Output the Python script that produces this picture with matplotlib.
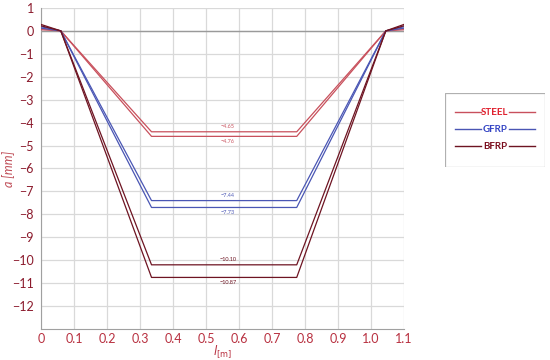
import matplotlib.pyplot as plt
from matplotlib.lines import Line2D
from matplotlib.patches import Rectangle

plt.rcParams['font.family'] = ['Lato', 'DejaVu Sans']

# x positions of the deflection shape (m)
x_pts = [0.0, 0.06, 0.335, 0.775, 1.045, 1.1]
materials = ['STEEL', 'GFRP', 'BFRP']
# two curves per material: start value, plateau value, end value
start_vals = {'STEEL': [0.05, 0.10], 'GFRP': [0.12, 0.18], 'BFRP': [0.22, 0.28]}
plateau_vals = {'STEEL': [-4.40, -4.60], 'GFRP': [-7.40, -7.70], 'BFRP': [-10.20, -10.75]}
end_vals = {'STEEL': [0.10, 0.05], 'GFRP': [0.18, 0.12], 'BFRP': [0.28, 0.22]}
value_labels = {'STEEL': ['−4.65', '−4.76'], 'GFRP': ['−7.44', '−7.73'], 'BFRP': ['−10.10', '−10.87']}

line_colors = {'STEEL': '#c8505c', 'GFRP': '#4a56b4', 'BFRP': '#6e1422'}
text_colors = {'STEEL': '#e0202e', 'GFRP': '#3444c4', 'BFRP': '#7a0c1c'}
tick_color = '#8b1a2c'

fig = plt.figure(figsize=(5.5, 3.6), dpi=100)
ax = fig.add_axes([0.0745, 0.086, 0.66, 0.892])

for m in materials:
    for k in range(2):
        y = [start_vals[m][k], 0, plateau_vals[m][k], plateau_vals[m][k], 0, end_vals[m][k]]
        ax.plot(x_pts, y, color=line_colors[m], lw=0.9, zorder=3)
    ax.text(0.567, plateau_vals[m][0] + 0.12, value_labels[m][0], fontsize=4,
            color=line_colors[m], ha='center', va='bottom')
    ax.text(0.567, plateau_vals[m][1] - 0.12, value_labels[m][1], fontsize=4,
            color=line_colors[m], ha='center', va='top')

ax.axhline(0, color='#9a9a9a', lw=1.0, zorder=2)
ax.set_xlim(0, 1.1)
ax.set_ylim(-13, 1)
xt = [0, 0.1, 0.2, 0.3, 0.4, 0.5, 0.6, 0.7, 0.8, 0.9, 1.0, 1.1]
ax.set_xticks(xt)
ax.set_xticklabels(['0', '0.1', '0.2', '0.3', '0.4', '0.5', '0.6', '0.7', '0.8', '0.9', '1.0', '1.1'])
ax.set_yticks(range(-12, 2))
ax.set_yticklabels([str(v).replace('-', '−') for v in range(-12, 2)])
ax.grid(True, color='#d9d9d9', lw=0.9)
ax.set_axisbelow(True)
ax.tick_params(colors=tick_color, labelsize=9, length=0, pad=5)
ax.tick_params(axis='x', labelcolor='#b83040', pad=3)
for s in ['top', 'right']:
    ax.spines[s].set_visible(False)
for s in ['left', 'bottom']:
    ax.spines[s].set_color('#a0a0a0')
ax.set_ylabel('a [mm]', style='italic', color='#c0505a', fontsize=9)
ax.yaxis.set_label_coords(-0.072, 0.5)
ax.set_xlabel(r'$\mathit{l}_{\mathrm{[m]}}$', color='#b83040', fontsize=8.5)
ax.xaxis.set_label_coords(0.5, -0.045)

# custom legend box
lax = fig.add_axes([445 / 550, 1 - 167 / 360, 100 / 550, 74 / 360])
lax.set_xlim(0, 1)
lax.set_ylim(0, 1)
lax.axis('off')
lax.add_patch(Rectangle((0, 0), 1, 1, fill=False, ec='#b0b0b0', lw=0.9))
for i, m in enumerate(materials):
    yy = 0.74 - i * 0.23
    lax.add_line(Line2D([0.1, 0.36], [yy, yy], color=line_colors[m], lw=1.0))
    lax.add_line(Line2D([0.64, 0.9], [yy, yy], color=line_colors[m], lw=1.0))
    lax.text(0.5, yy, m, color=text_colors[m], fontsize=7, fontweight='bold',
             ha='center', va='center')

fig.savefig('out.png', dpi=100)
